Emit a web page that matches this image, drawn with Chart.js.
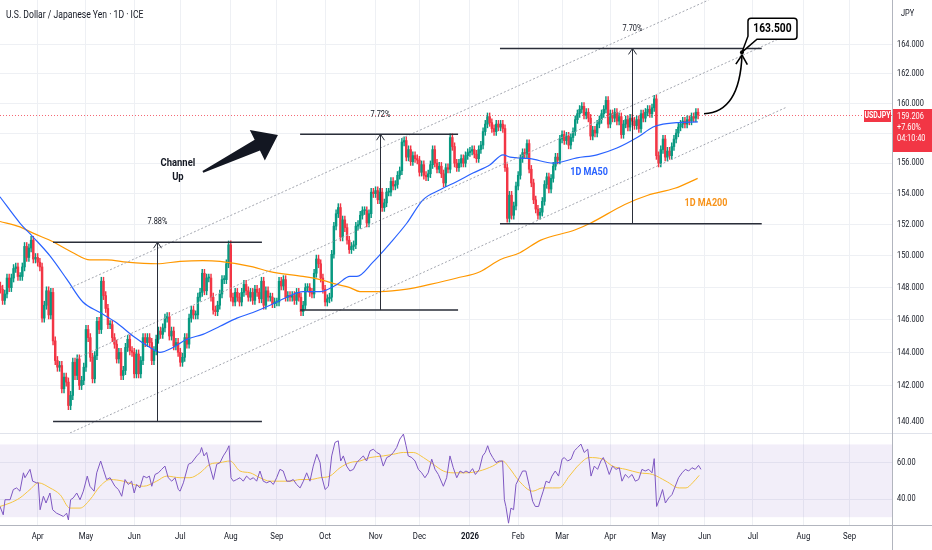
<!DOCTYPE html>
<html lang="en">
<head>
  <meta charset="UTF-8" />
  <title>USDJPY 1D - Channel Up</title>
  <script src="https://cdn.jsdelivr.net/npm/chart.js"></script>
  <style>
    * { box-sizing: border-box; }
    body { margin: 0; background: #ffffff; }
    #wrap { position: relative; width: 932px; height: 550px; overflow: hidden; background: #fff; }
    #pricePane { position: absolute; left: 0; top: 0; width: 932px; height: 433px; }
    #rsiPane { position: absolute; left: 0; top: 433px; width: 932px; height: 117px; }
    .title {
      position: absolute; left: 6px; top: 9px; z-index: 2;
      font-family: Roboto, 'Liberation Sans', sans-serif; font-size: 10px; color: #131722;
      transform: scaleX(0.86); transform-origin: 0 0; white-space: nowrap;
    }
    .rule { position: absolute; z-index: 3; }
  </style>
</head>
<body>
<div id="wrap">
  <div id="pricePane"><canvas id="price"></canvas></div>
  <div id="rsiPane"><canvas id="rsi"></canvas></div>
  <div class="title">U.S. Dollar / Japanese Yen · 1D · ICE</div>
  <div class="rule" style="left:0;top:433px;width:932px;height:1px;background:#e0e3eb"></div>
  <div class="rule" style="left:0;top:525px;width:932px;height:1px;background:#b2b5be"></div>
  <div class="rule" style="left:892px;top:0;width:1px;height:550px;background:#b2b5be"></div>
</div>

<script>
  const FONT = "Roboto, 'Liberation Sans', sans-serif";
  const SQ = 0.82;            // the screenshot's text is narrow
  const TEXT = '#131722';
  const GRID = '#eef0f4';
  const UP = '#089981';
  const DOWN = '#f23645';
  const WICK = 0.25;

  // x axis = trading-day index, 0 = 1 Apr 2025
  const X_MIN = -17.18, X_MAX = 389.38;
  const monthDays = [0, 22, 44, 65, 88, 109, 131, 154, 174, 197, 219, 239, 261, 283, 304, 326, 349, 370];
  const monthLabels = ['Apr', 'May', 'Jun', 'Jul', 'Aug', 'Sep', 'Oct', 'Nov', 'Dec', '2026',
                       'Feb', 'Mar', 'Apr', 'May', 'Jun', 'Jul', 'Aug', 'Sep'];

  const priceTicks = [142, 144, 146, 148, 150, 152, 154, 156, 158, 160, 162, 164];
  const PRICE_MIN = 139.17, PRICE_MAX = 167.15;
  const rsiTicks = [40, 60];
  const RSI_MIN = 25.7, RSI_MAX = 76.3;

  // daily closes, first candle = 7 Mar 2025 (day -17)
  const firstDay = -17;
  const firstOpen = 148.1;
  const closes = [
    147.9, 147.2, 147.6, 148.6, 148.0, 148.6, 149.2, 149.3, 148.7, 148.7, 149.3, 150.6, 149.9, 150.5, 151.0, 149.8, 149.9,
    149.6, 149.3, 146.1, 146.9, 147.8, 146.3, 147.7, 144.7, 143.5, 143.1, 143.2, 141.8, 142.5, 142.2, 140.8, 141.4, 143.4, 142.6, 143.6, 142.0, 142.3, 143.1,
    145.4, 144.9, 143.7, 142.4, 143.8, 145.9, 145.4, 148.4, 147.5, 146.7, 145.7, 145.7, 144.9, 144.5, 143.6, 144.0, 142.6, 142.9, 144.3, 144.8, 144.1, 144.0,
    142.7, 143.9, 142.7, 143.5, 144.9, 144.6, 144.9, 144.6, 143.5, 144.1, 144.8, 145.3, 145.1, 145.5, 146.1, 146.2, 145.0, 145.3, 144.4, 144.6, 144.0,
    143.4, 143.7, 144.9, 144.5, 146.1, 146.6, 146.3, 146.3, 147.4, 147.7, 148.9, 147.8, 148.6, 148.6, 147.4, 146.6, 146.5, 146.9, 147.6, 148.5, 148.5, 149.5, 150.7,
    147.4, 147.1, 147.7, 147.4, 147.1, 147.7, 148.2, 147.8, 147.4, 147.7, 147.2, 147.9, 147.7, 147.3, 148.4, 146.9, 147.8, 147.4, 147.4, 147.0, 147.1,
    147.1, 148.4, 148.1, 148.5, 147.4, 147.5, 147.4, 147.5, 147.2, 147.7, 147.4, 146.5, 146.9, 148.0, 148.0, 147.7, 147.6, 148.9, 149.8, 149.5, 148.6, 147.9,
    147.1, 147.3, 147.4, 150.1, 151.9, 152.7, 153.1, 151.2, 152.3, 151.8, 151.0, 150.4, 150.6, 150.7, 151.9, 152.0, 152.6, 152.9, 152.9, 152.1, 152.7, 154.1, 154.0,
    154.2, 153.6, 154.1, 153.1, 153.4, 154.1, 154.1, 154.8, 154.5, 154.6, 155.2, 155.5, 157.4, 157.5, 156.4, 156.9, 156.1, 156.5, 156.3, 156.2,
    155.4, 155.9, 155.2, 155.1, 155.3, 155.9, 156.9, 156.0, 155.6, 155.8, 155.3, 154.7, 155.7, 155.6, 157.7, 157.1, 156.0, 155.7, 156.0, 156.3, 156.0, 156.5, 156.7,
    156.8, 156.9, 156.6, 156.3, 156.9, 157.2, 158.1, 158.6, 159.1, 158.7, 158.3, 158.1, 158.6, 158.4, 158.6, 158.3, 155.7, 152.4, 153.9, 152.6, 153.2, 154.5,
    155.2, 156.3, 156.7, 156.6, 157.3, 155.6, 154.7, 153.6, 153.0, 152.6, 152.8, 153.5, 154.6, 155.1, 154.3, 155.0, 155.8, 156.4, 156.2, 157.6,
    157.9, 157.5, 157.8, 157.2, 157.7, 158.1, 158.9, 159.3, 159.6, 159.8, 159.2, 159.4, 159.0, 157.8, 158.2, 158.0, 158.6, 158.9, 159.3, 159.6, 160.2, 158.6,
    159.3, 159.0, 159.4, 158.8, 159.1, 157.9, 158.6, 158.9, 158.4, 159.0, 158.8, 158.5, 158.9, 158.3, 159.3, 159.0, 159.4, 159.6, 159.3, 159.7, 160.3, 156.5,
    156.0, 156.9, 157.6, 156.4, 156.8, 156.5, 157.1, 157.6, 158.0, 158.4, 158.6, 158.8, 158.6, 158.9, 158.8, 159.1, 159.0, 159.4, 159.206
  ];

  const ma50Days = [-17.2, -8.1, -2.1, 5.6, 13.4, 20.6, 28.4, 36.1, 43.4, 51.2, 55.7, 61.7, 68, 75.3, 83.1,
                    90.8, 98.1, 105.9, 113.6, 120.9, 128.7, 136.4, 142.3, 145.5, 152.8, 160.6, 168.3, 175.6,
                    183.4, 191.1, 198.4, 206.2, 212.1, 215.3, 224.4, 234.9, 245.8, 254.9, 264, 273.2, 280.5,
                    283.6, 291.4, 300.9];
  const ma50Vals = [153.8, 152.1, 151.2, 150.0, 148.5, 147.1, 146.45, 145.8, 145.0, 144.3, 144.0, 144.3, 144.8, 145.1, 145.6,
                    146.1, 146.45, 146.9, 147.4, 147.75, 147.75, 148.2, 148.7, 148.7, 149.6, 150.8, 152.1, 153.6,
                    154.25, 154.8, 155.35, 155.9, 156.55, 156.4, 156.3, 156.0, 156.35, 156.55, 157.0, 157.7, 158.4,
                    158.55, 158.7, 158.75];

  const ma200Days = [-17.2, -8.1, -2.1, 7.0, 16.1, 23.8, 31.6, 40.7, 54.4, 64.9, 75.3, 83.1, 98.1, 105.9, 120.9,
                     128.7, 136.4, 142.3, 146.9, 156, 168.3, 178.8, 191.1, 201.6, 210.7, 219.8, 229.3, 244.8,
                     252.1, 267.6, 278.1, 290.4, 300.8];
  const ma200Vals = [152.2, 151.85, 151.45, 150.9, 150.2, 149.75, 149.75, 149.6, 149.5, 149.65, 149.7, 149.65, 149.3, 149.0, 148.7,
                     148.5, 148.2, 148.0, 147.75, 147.75, 147.9, 148.2, 148.6, 149.0, 149.75, 150.2, 151.0, 151.65,
                     152.1, 153.3, 153.9, 154.35, 155.0];

  const rsiDays = [
    -17.2, -15.7, -14.9, -12.6, -11.1, -9.6, -8.1, -6.5, -5.8, -3.5,
    -2.3, -0.5, 0.3, 1.1, 2.6, 3.8, 5.6, 6.8, 8.6, 10.2,
    11.7, 13.2, 14.0, 15.0, 16.2, 17.8, 19.3, 20.8, 22.6, 23.8,
    25.7, 26.9, 28.7, 29.9, 31.4, 33.0, 35.2, 36.8, 38.3, 39.8,
    41.3, 42.8, 44.0, 45.1, 46.6, 48.2, 49.7, 50.9, 52.0, 53.5,
    55.0, 56.5, 58.0, 59.5, 61.1, 62.6, 64.1, 64.9, 66.4, 68.7,
    70.2, 72.5, 74.0, 74.7, 75.8, 77.0, 78.2, 80.1, 81.6, 83.1,
    84.6, 86.1, 87.2, 88.1, 89.2, 90.7, 92.2, 93.7, 95.2, 96.8,
    98.3, 99.8, 101.3, 102.8, 104.4, 105.9, 107.4, 108.9, 110.4, 111.9,
    113.5, 115.0, 116.5, 118.0, 119.6, 121.1, 122.6, 124.1, 125.6, 127.2,
    128.7, 129.4, 131.0, 132.5, 134.0, 135.5, 137.0, 138.1, 139.3, 140.8,
    142.3, 143.9, 145.4, 146.9, 148.4, 149.9, 151.5, 153.0, 154.5, 156.0,
    157.5, 159.1, 160.6, 162.1, 163.6, 165.1, 166.7, 167.9, 168.9, 170.5,
    172.0, 173.5, 175.0, 176.5, 178.0, 179.6, 181.1, 182.6, 184.9, 186.4,
    187.9, 189.4, 191.0, 192.5, 194.0, 195.2, 196.7, 198.2, 199.5, 201.3,
    202.8, 204.0, 205.1, 206.1, 207.4, 208.9, 210.4, 211.9, 212.7, 213.4,
    214.6, 215.7, 216.9, 218.0, 219.5, 221.0, 222.5, 224.1, 225.6, 226.8,
    228.3, 229.4, 230.4, 231.7, 233.2, 234.4, 235.9, 237.4, 239.0, 240.0,
    241.5, 243.1, 244.6, 246.1, 247.6, 249.1, 250.7, 252.2, 253.7, 255.2,
    256.7, 257.8, 259.0, 260.5, 262.0, 263.6, 265.1, 266.3, 267.8, 269.3,
    270.9, 272.4, 273.9, 275.4, 276.9, 278.5, 280.0, 281.0, 282.1, 283.6,
    284.8, 286.1, 287.6, 289.1, 290.6, 292.1, 293.7, 295.2, 296.7, 298.2,
    299.7, 301.2, 302.3
  ];
  const rsiVals = [
    35.9, 31.3, 39.6, 39.6, 45.2, 46.1, 44.3, 54.4, 51.7, 56.3,
    49.8, 48.9, 48.9, 34.1, 41.5, 37.8, 43.3, 34.1, 32.2, 31.3,
    30.4, 32.2, 28.5, 39.6, 40.6, 43.3, 39.6, 44.3, 52.6, 47.0,
    44.3, 54.4, 60.9, 56.3, 50.7, 51.7, 47.0, 45.2, 41.5, 50.7,
    48.0, 49.8, 43.3, 48.0, 46.1, 52.6, 51.7, 52.6, 47.0, 53.5,
    54.4, 56.3, 58.1, 51.7, 49.8, 51.7, 45.2, 44.3, 48.9, 59.1,
    60.0, 63.7, 65.6, 68.3, 63.7, 65.6, 59.1, 50.7, 59.1, 60.0,
    63.7, 66.5, 69.3, 51.7, 49.8, 50.7, 51.7, 49.8, 52.6, 50.7,
    51.7, 49.8, 55.4, 49.8, 48.9, 49.8, 48.0, 51.7, 56.3, 55.4,
    49.8, 49.8, 50.7, 48.0, 46.1, 49.8, 54.4, 49.8, 58.1, 64.6,
    60.0, 52.6, 45.2, 47.0, 63.7, 71.1, 72.0, 60.9, 63.7, 58.1,
    55.4, 56.3, 60.0, 61.9, 63.7, 60.9, 66.5, 67.4, 65.6, 64.6,
    58.1, 62.8, 63.7, 65.6, 68.3, 73.0, 75.7, 69.3, 63.7, 62.8,
    60.9, 56.3, 54.4, 51.7, 54.4, 61.9, 56.3, 53.5, 47.0, 51.7,
    63.7, 57.2, 51.7, 55.4, 54.4, 55.4, 54.4, 56.7, 53.5, 56.3,
    63.7, 65.6, 69.3, 65.6, 62.8, 60.0, 60.9, 60.9, 39.6, 35.9,
    26.7, 35.0, 34.1, 48.0, 51.7, 55.4, 55.4, 47.0, 38.7, 35.9,
    35.9, 40.6, 44.3, 49.8, 48.9, 52.6, 55.4, 52.6, 61.9, 62.8,
    60.9, 61.9, 66.5, 68.3, 70.2, 65.6, 67.4, 52.6, 58.1, 56.3,
    60.9, 62.8, 59.1, 53.5, 58.1, 56.3, 57.2, 49.8, 53.5, 51.7,
    53.5, 49.8, 50.7, 56.3, 55.4, 56.3, 54.4, 62.2, 35.9, 40.6,
    45.2, 37.8, 40.6, 42.4, 47.0, 51.7, 54.4, 56.3, 55.4, 57.2,
    56.3, 58.5, 56.3
  ];

  const rsiMaDays = [-17.2, -12.6, -8.1, -3.5, 0.3, 5.6, 10.2, 14.7, 19.3, 23.8, 28.4, 33.0, 39.0, 43.6, 48.2,
                     54.2, 58.8, 64.9, 69.4, 74.0, 78.5, 83.1, 87.7, 92.2, 96.8, 101.3, 105.9, 110.4, 115.0,
                     119.6, 124.1, 128.7, 133.2, 137.8, 142.3, 146.9, 151.5, 157.5, 162.1, 166.7, 171.2, 175.8,
                     180.3, 184.9, 189.4, 195.2, 201.3, 207.4, 211.9, 214.9, 219.5, 225.6, 230.1, 234.7, 237.7,
                     242.3, 246.9, 251.4, 257.5, 262.0, 268.1, 274.2, 280.3, 286.4, 292.4, 295.5, 298.5, 301.5];
  const rsiMaVals = [35.9, 37.8, 40.6, 45.2, 48.9, 46.1, 42.4, 35.0, 35.0, 39.6, 47.0, 50.7, 49.8, 48.0, 47.0,
                     49.8, 52.6, 51.7, 51.7, 54.4, 59.1, 60.0, 60.9, 55.4, 54.4, 51.7, 49.8, 49.8, 49.8,
                     50.7, 50.7, 51.7, 52.6, 57.2, 60.0, 60.9, 62.8, 63.7, 64.6, 65.6, 65.6, 62.8,
                     59.1, 55.4, 54.4, 54.4, 55.4, 58.1, 60.9, 57.2, 49.8, 44.3, 46.1, 46.1, 46.1,
                     52.6, 59.1, 62.8, 61.9, 58.1, 56.3, 54.4, 53.5, 49.8, 46.1, 46.1, 48.9, 53.0];

  // drawings on the chart (day index, price)
  const chanFromDay = [14.7, 16.1, 14.7];
  const chanFromPrice = [147.98, 143.54, 139.17];
  const chanToDay = [305.8, 339.7, 341.5];
  const chanToPrice = [167.15, 164.56, 159.75];

  const measureFrom = [7.0, 119.6, 210.7];
  const measureTo = [102.2, 191.6, 330.0];
  const measureMid = [54.4, 155.8, 270.7];
  const measureLow = [139.85, 146.6, 152.05];
  const measureHigh = [150.87, 157.92, 163.76];
  const measureText = ['7.88%', '7.72%', '7.70%'];

  const bigArrowFrom = [75.3, 155.42];
  const bigArrowTo = [109.5, 157.87];
  const channelText = ['Channel', 'Up'];
  const channelTextAt = [63.9, 155.55];
  const ma50TextAt = [251.3, 155.42];
  const ma200TextAt = [304.6, 153.4];

  const curveFrom = [303.7, 159.3];
  const curveCtrl = [320, 159.4];
  const curveTo = [321, 163.31];
  const target = [321, 163.5];
  const targetText = '163.500';

  const symbolName = 'USDJPY';
  const lastPrice = 159.206;
  const lastPriceText = '159.206';
  const changeText = '+7.60%';
  const countdownText = '04:10:40';
  const extraAxisLabel = '140.400';

  // candles
  const candleBodies = [], candleWicks = [], candleColors = [];
  let prevClose = firstOpen;
  closes.forEach((c, i) => {
    const d = firstDay + i, o = prevClose;
    candleBodies.push({ x: d, y: [o, c] });
    candleWicks.push({ x: d, y: [Math.min(o, c) - WICK, Math.max(o, c) + WICK] });
    candleColors.push(c >= o ? UP : DOWN);
    prevClose = c;
  });
  const pts = (xs, ys) => xs.map((x, i) => ({ x: x, y: ys[i] }));

  function squish(ctx, text, x, y) {
    ctx.save();
    ctx.translate(x, y);
    ctx.scale(SQ, 1);
    ctx.fillText(text, 0, 0);
    ctx.restore();
  }

  // axis texts drawn narrow, at the library's tick positions
  const axisText = {
    id: 'axisText',
    afterDraw(chart, args, opts) {
      const { ctx, scales: { x, y } } = chart;
      ctx.save();
      ctx.fillStyle = TEXT;
      ctx.textBaseline = 'middle';
      ctx.textAlign = 'left';
      ctx.font = `9px ${FONT}`;
      y.ticks.forEach(t => squish(ctx, t.value.toFixed(opts.digits), y.left + 5, y.getPixelForValue(t.value)));
      if (opts.months) {
        ctx.textAlign = 'center';
        x.ticks.forEach(t => {
          ctx.font = (t.value === 197 ? 'bold ' : '') + `9.5px ${FONT}`;
          squish(ctx, monthLabels[monthDays.indexOf(t.value)], x.getPixelForValue(t.value), x.top + 12);
        });
      }
      ctx.restore();
    }
  };

  const priceDecor = {
    id: 'priceDecor',
    beforeDatasetsDraw(chart) {
      const { ctx, chartArea: a, scales: { y } } = chart;
      const yy = Math.round(y.getPixelForValue(lastPrice)) + 0.5;
      ctx.save();
      ctx.strokeStyle = 'rgba(242,54,69,0.75)';
      ctx.lineWidth = 1;
      ctx.setLineDash([1, 2]);
      ctx.beginPath(); ctx.moveTo(a.left, yy); ctx.lineTo(a.right, yy); ctx.stroke();
      ctx.restore();
    },
    afterDatasetsDraw(chart) {
      const { ctx, chartArea: a, scales: { x, y } } = chart;
      const X = d => x.getPixelForValue(d);
      const Y = p => y.getPixelForValue(p);
      ctx.save();
      ctx.beginPath(); ctx.rect(a.left, a.top, a.width, a.height); ctx.clip();

      // channel
      ctx.strokeStyle = '#a3a6af';
      ctx.lineWidth = 1;
      ctx.setLineDash([2, 2]);
      chanFromDay.forEach((d, i) => {
        ctx.beginPath();
        ctx.moveTo(X(d), Y(chanFromPrice[i]));
        ctx.lineTo(X(chanToDay[i]), Y(chanToPrice[i]));
        ctx.stroke();
      });
      ctx.setLineDash([]);

      // measures
      ctx.strokeStyle = '#2a2e39';
      ctx.fillStyle = TEXT;
      ctx.textAlign = 'center';
      ctx.textBaseline = 'middle';
      ctx.font = `9px ${FONT}`;
      measureFrom.forEach((d, i) => {
        const x0 = X(d), x1 = X(measureTo[i]);
        const xm = Math.round(X(measureMid[i])) + 0.5;
        const yl = Y(measureLow[i]), yh = Y(measureHigh[i]);
        ctx.lineWidth = 1.5;
        ctx.beginPath();
        ctx.moveTo(x0, yh); ctx.lineTo(x1, yh);
        ctx.moveTo(x0, yl); ctx.lineTo(x1, yl);
        ctx.stroke();
        ctx.lineWidth = 1;
        ctx.beginPath();
        ctx.moveTo(xm, yl); ctx.lineTo(xm, yh);
        ctx.moveTo(xm - 4, yh + 6); ctx.lineTo(xm, yh); ctx.lineTo(xm + 4, yh + 6);
        ctx.stroke();
        squish(ctx, measureText[i], xm, yh - 20);
      });

      // big arrow
      const tx = X(bigArrowFrom[0]), ty = Y(bigArrowFrom[1]);
      const hx = X(bigArrowTo[0]), hy = Y(bigArrowTo[1]);
      const len = Math.hypot(hx - tx, hy - ty);
      const ux = (hx - tx) / len, uy = (hy - ty) / len;
      const nx = -uy, ny = ux;
      const bx = hx - ux * 23, by = hy - uy * 23;
      ctx.fillStyle = '#131722';
      ctx.beginPath();
      ctx.moveTo(tx + nx, ty + ny);
      ctx.lineTo(bx + nx * 6, by + ny * 6);
      ctx.lineTo(bx + nx * 17, by + ny * 17);
      ctx.lineTo(hx, hy);
      ctx.lineTo(bx - nx * 17, by - ny * 17);
      ctx.lineTo(bx - nx * 6, by - ny * 6);
      ctx.lineTo(tx - nx, ty - ny);
      ctx.closePath();
      ctx.fill();

      // texts
      ctx.font = `bold 11.5px ${FONT}`;
      ctx.fillStyle = TEXT;
      const cx0 = X(channelTextAt[0]), cy0 = Y(channelTextAt[1]);
      squish(ctx, channelText[0], cx0, cy0 - 7);
      squish(ctx, channelText[1], cx0, cy0 + 7);
      ctx.font = `bold 11px ${FONT}`;
      ctx.fillStyle = '#2962ff';
      squish(ctx, '1D MA50', X(ma50TextAt[0]), Y(ma50TextAt[1]));
      ctx.fillStyle = '#f7931a';
      squish(ctx, '1D MA200', X(ma200TextAt[0]), Y(ma200TextAt[1]));

      // curved projection arrow
      const sx = X(curveFrom[0]), sy = Y(curveFrom[1]);
      const qx = X(curveCtrl[0]), qy = Y(curveCtrl[1]);
      const ex = X(curveTo[0]), ey = Y(curveTo[1]);
      ctx.strokeStyle = '#000';
      ctx.lineWidth = 1.6;
      ctx.beginPath(); ctx.moveTo(sx, sy); ctx.quadraticCurveTo(qx, qy, ex, ey); ctx.stroke();
      const ang = Math.atan2(ey - qy, ex - qx);
      ctx.beginPath();
      ctx.moveTo(ex - 11 * Math.cos(ang - 0.55), ey - 11 * Math.sin(ang - 0.55));
      ctx.lineTo(ex, ey);
      ctx.lineTo(ex - 11 * Math.cos(ang + 0.55), ey - 11 * Math.sin(ang + 0.55));
      ctx.stroke();

      // target callout
      const gx = X(target[0]), gy = Y(target[1]);
      const bl = gx + 6, br = gx + 55, bt = gy - 34, bb = gy - 13, r = 3;
      ctx.fillStyle = '#ffffff';
      ctx.lineWidth = 1.5;
      ctx.beginPath();
      ctx.moveTo(bl + r, bt);
      ctx.lineTo(br - r, bt); ctx.quadraticCurveTo(br, bt, br, bt + r);
      ctx.lineTo(br, bb - r); ctx.quadraticCurveTo(br, bb, br - r, bb);
      ctx.lineTo(bl + 9, bb);
      ctx.lineTo(gx, gy);
      ctx.lineTo(bl, bb - 3);
      ctx.lineTo(bl, bt + r); ctx.quadraticCurveTo(bl, bt, bl + r, bt);
      ctx.closePath();
      ctx.fill(); ctx.stroke();
      ctx.fillStyle = '#000';
      ctx.beginPath(); ctx.arc(gx, gy, 2, 0, Math.PI * 2); ctx.fill();
      ctx.font = `bold 12.5px ${FONT}`;
      squish(ctx, targetText, (bl + br) / 2, (bt + bb) / 2 + 0.5);

      ctx.restore();
    },
    afterDraw(chart) {
      const { ctx, chartArea: a, scales: { y } } = chart;
      const yy = Math.round(y.getPixelForValue(lastPrice));
      ctx.save();
      ctx.fillStyle = DOWN;
      ctx.fillRect(a.right - 28, yy - 5, 27, 12);
      ctx.fillRect(a.right, yy - 6, chart.width - a.right, 43);
      ctx.fillStyle = '#ffffff';
      ctx.textBaseline = 'middle';
      ctx.textAlign = 'center';
      ctx.font = `bold 8.5px ${FONT}`;
      squish(ctx, symbolName, a.right - 14.5, yy + 1);
      ctx.textAlign = 'left';
      ctx.font = `9px ${FONT}`;
      squish(ctx, lastPriceText, a.right + 5, yy + 1.5);
      squish(ctx, changeText, a.right + 5, yy + 12.5);
      squish(ctx, countdownText, a.right + 5, yy + 23.5);
      ctx.fillStyle = TEXT;
      squish(ctx, extraAxisLabel, a.right + 5, y.getPixelForValue(measureLow[0]));
      squish(ctx, 'JPY', a.right + 9, 14);
      ctx.restore();
    }
  };

  const rsiBand = {
    id: 'rsiBand',
    beforeDatasetsDraw(chart) {
      const { ctx, chartArea: a, scales: { y } } = chart;
      const y70 = y.getPixelForValue(70), y30 = y.getPixelForValue(30);
      ctx.save();
      ctx.fillStyle = 'rgba(126,87,194,0.1)';
      ctx.fillRect(a.left, y70, a.width, y30 - y70);
      ctx.restore();
    }
  };

  const noPad = s => { s.paddingTop = 0; s.paddingBottom = 0; s.paddingLeft = 0; s.paddingRight = 0; };

  const xAxis = height => ({
    type: 'linear', min: X_MIN, max: X_MAX, bounds: 'data', offset: false,
    afterBuildTicks: s => { s.ticks = monthDays.map(v => ({ value: v })); },
    afterFit: s => { s.height = height; noPad(s); },
    grid: { color: GRID, drawTicks: false, offset: false },
    border: { display: false },
    ticks: { display: false }
  });

  const yAxis = (type, min, max, ticks) => ({
    type: type, position: 'right', min: min, max: max, bounds: 'data', beginAtZero: false,
    afterBuildTicks: s => { s.ticks = ticks.map(v => ({ value: v })); },
    afterFit: s => { s.width = 40; noPad(s); },
    grid: { color: GRID, drawTicks: false },
    border: { display: false },
    ticks: { display: false }
  });

  new Chart(document.getElementById('price'), {
    type: 'bar',
    data: {
      datasets: [
        { type: 'line', data: pts(ma50Days, ma50Vals), borderColor: '#2962ff', borderWidth: 1.2,
          pointRadius: 0, cubicInterpolationMode: 'monotone', order: 0 },
        { type: 'line', data: pts(ma200Days, ma200Vals), borderColor: '#ff9800', borderWidth: 1.2,
          pointRadius: 0, cubicInterpolationMode: 'monotone', order: 0 },
        { type: 'bar', data: candleBodies, backgroundColor: candleColors, barThickness: 1.8,
          minBarLength: 1, grouped: false, order: 1 },
        { type: 'bar', data: candleWicks, backgroundColor: candleColors, barThickness: 0.8,
          grouped: false, order: 2 }
      ]
    },
    options: {
      responsive: true, maintainAspectRatio: false, animation: false,
      layout: { padding: 0, autoPadding: false },
      plugins: { legend: { display: false }, tooltip: { enabled: false }, axisText: { digits: 3, months: false } },
      scales: {
        x: xAxis(0),
        y: yAxis('logarithmic', PRICE_MIN, PRICE_MAX, priceTicks)
      }
    },
    plugins: [axisText, priceDecor]
  });

  new Chart(document.getElementById('rsi'), {
    type: 'line',
    data: {
      datasets: [
        { data: pts(rsiDays, rsiVals), borderColor: '#7e57c2', borderWidth: 1, pointRadius: 0, tension: 0 },
        { data: pts(rsiMaDays, rsiMaVals), borderColor: '#f5c542', borderWidth: 1, pointRadius: 0,
          cubicInterpolationMode: 'monotone' }
      ]
    },
    options: {
      responsive: true, maintainAspectRatio: false, animation: false,
      layout: { padding: 0, autoPadding: false },
      plugins: { legend: { display: false }, tooltip: { enabled: false }, axisText: { digits: 2, months: true } },
      scales: {
        x: xAxis(25),
        y: yAxis('linear', RSI_MIN, RSI_MAX, rsiTicks)
      }
    },
    plugins: [rsiBand, axisText]
  });
</script>
</body>
</html>
